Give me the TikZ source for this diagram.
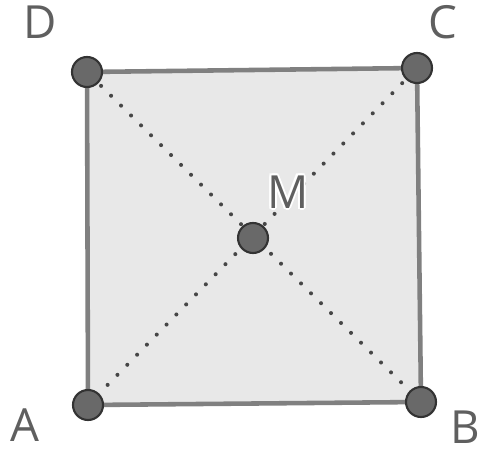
\documentclass[tikz,border=0pt]{standalone}
\usepackage{fontspec}
\setmainfont{Open Sans}
\usetikzlibrary{positioning}
\definecolor{cEdge}{RGB}{128,128,128}
\definecolor{cFace}{RGB}{232,232,232}
\definecolor{cDot}{RGB}{105,105,105}
\definecolor{cDiag}{RGB}{70,70,70}
\definecolor{cLabel}{RGB}{95,95,95}
\tikzset{
	pt/.style      ={circle, draw=black!80, line width=1.2pt, fill=cDot, minimum size=0.6cm, inner sep=0pt},
	ptlabel/.style ={text=cLabel, inner sep=0pt, font=\fontsize{26}{28}\selectfont},
	side/.style    ={draw=cEdge, line width=2.6pt},
	diag/.style    ={draw=cDiag, line width=2.3pt, line cap=round, dash pattern=on 0pt off 8pt},
}
\begin{document}
\begin{tikzpicture}[x=0.02cm, y=-0.02cm]
	\useasboundingbox (0,0) rectangle (482,452);
	% corners and centre
	\coordinate (a) at (88,405);
	\coordinate (b) at (421,402);
	\coordinate (c) at (417,68);
	\coordinate (d) at (87,72);
	\coordinate (m) at (253,238);
	\filldraw[side, fill=cFace] (a) -- (b) -- (c) -- (d) -- cycle;
	\draw[diag] (a) -- (c);
	\draw[diag] (b) -- (d);
	\node[pt] (A) at (a) {};
	\node[pt] (B) at (b) {};
	\node[pt] (C) at (c) {};
	\node[pt] (D) at (d) {};
	\node[pt] (M) at (m) {};
	\node[ptlabel] (lA) at (25,425) {A};
	\node[ptlabel] (lB) at (465,427) {B};
	\node[ptlabel] (lC) at (443,22) {C};
	\node[ptlabel] (lD) at (40,22) {D};
	% white halo behind M
	\foreach \dx/\dy in {-2/0,2/0,0/-2,0/2,-1.5/-1.5,1.5/1.5,-1.5/1.5,1.5/-1.5}
		\node[ptlabel, text=white] at ([shift={(\dx,\dy)}]288,192) {M};
	\node[ptlabel] (lM) at (288,192) {M};
\end{tikzpicture}
\end{document}
